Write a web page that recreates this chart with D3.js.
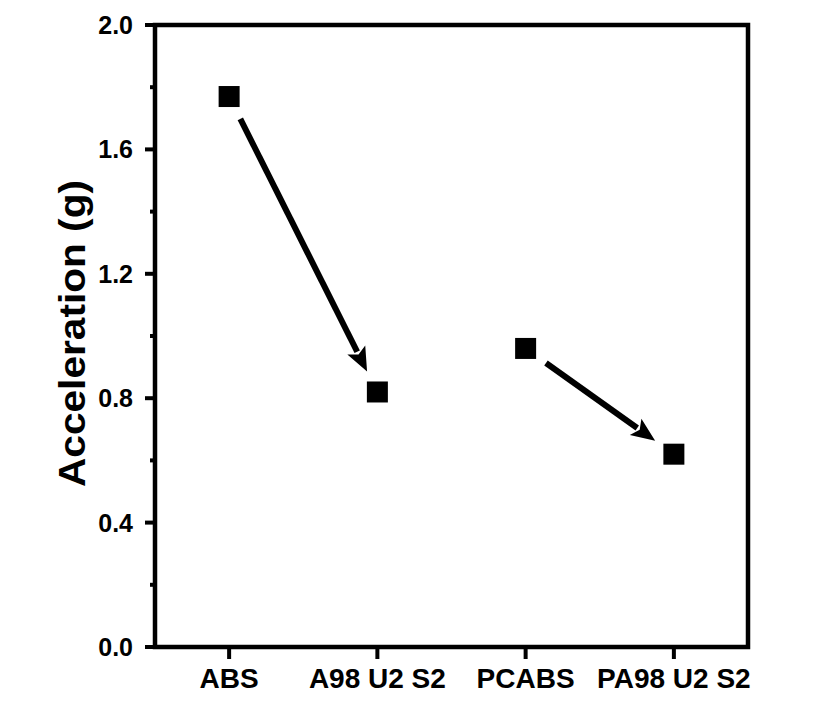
<!DOCTYPE html>
<html>
<head>
<meta charset="utf-8">
<script src="https://cdn.jsdelivr.net/npm/d3@7"></script>
<style>
  body { margin: 0; background: #fff; }
  text { font-family: "Liberation Sans", Arial, sans-serif; font-weight: bold; }
</style>
</head>
<body>
<div id="chart"></div>
<script>
"use strict";
var categories = ["ABS", "A98 U2 S2", "PCABS", "PA98 U2 S2"];
var values = [1.77, 0.82, 0.96, 0.62];
var majorTicks = [0.0, 0.4, 0.8, 1.2, 1.6, 2.0];
var minorTicks = [0.2, 0.6, 1.0, 1.4, 1.8];
var arrows = [[0, 1], [2, 3]]; // from category index -> to category index
var yLabel = "Acceleration (g)";

function drawChart()
{
    var w = 836;
    var h = 702;
    var left = 155, right = 748, top = 25, bottom = 647;

    var svg = d3.select("#chart")
                .append("svg")
                .attr("width", w)
                .attr("height", h);

    var x = d3.scalePoint()
              .domain(categories)
              .range([left, right])
              .padding(0.5);

    var y = d3.scaleLinear()
              .domain([0, 2.0])
              .range([bottom, top]);

    // frame
    svg.append("rect")
        .attr("x", left)
        .attr("y", top)
        .attr("width", right - left)
        .attr("height", bottom - top)
        .attr("fill", "none")
        .attr("stroke", "#000")
        .attr("stroke-width", 4.5);

    // y ticks
    svg.selectAll(".ymajor")
        .data(majorTicks)
        .enter().append("line")
        .attr("x1", left - 10)
        .attr("x2", left)
        .attr("y1", function(d) { return y(d); })
        .attr("y2", function(d) { return y(d); })
        .attr("stroke", "#000")
        .attr("stroke-width", 4);

    svg.selectAll(".yminor")
        .data(minorTicks)
        .enter().append("line")
        .attr("x1", left - 5)
        .attr("x2", left)
        .attr("y1", function(d) { return y(d); })
        .attr("y2", function(d) { return y(d); })
        .attr("stroke", "#000")
        .attr("stroke-width", 4);

    svg.selectAll(".ylab")
        .data(majorTicks)
        .enter().append("text")
        .text(function(d) { return d3.format(".1f")(d); })
        .attr("x", left - 22)
        .attr("y", function(d) { return y(d); })
        .attr("dy", "0.36em")
        .style("text-anchor", "end")
        .style("font-size", "25px")
        .attr("fill", "#000");

    // x ticks
    svg.selectAll(".xtick")
        .data(categories)
        .enter().append("line")
        .attr("x1", function(d) { return x(d); })
        .attr("x2", function(d) { return x(d); })
        .attr("y1", bottom)
        .attr("y2", bottom + 12)
        .attr("stroke", "#000")
        .attr("stroke-width", 4);

    svg.selectAll(".xlab")
        .data(categories)
        .enter().append("text")
        .text(function(d) { return d; })
        .attr("x", function(d) { return x(d); })
        .attr("y", 688)
        .style("text-anchor", "middle")
        .style("font-size", "28px")
        .attr("fill", "#000");

    // y axis title
    svg.append("text")
        .text(yLabel)
        .attr("transform", "translate(85," + ((top + bottom) / 2 - 2.5) + ") rotate(-90)")
        .attr("textLength", 307)
        .attr("lengthAdjust", "spacingAndGlyphs")
        .style("text-anchor", "middle")
        .style("font-size", "37px")
        .attr("fill", "#000");

    // arrows between points
    var gapStart = 25, gapEnd = 23, headLen = 24, headHalf = 10;
    arrows.forEach(function(a) {
        var x0 = x(categories[a[0]]), y0 = y(values[a[0]]);
        var x1 = x(categories[a[1]]), y1 = y(values[a[1]]);
        var dx = x1 - x0, dy = y1 - y0;
        var len = Math.sqrt(dx * dx + dy * dy);
        var ux = dx / len, uy = dy / len;
        var sx = x0 + ux * gapStart, sy = y0 + uy * gapStart;
        var tx = x1 - ux * gapEnd, ty = y1 - uy * gapEnd;
        var bx = tx - ux * headLen, by = ty - uy * headLen;

        svg.append("line")
            .attr("x1", sx).attr("y1", sy)
            .attr("x2", bx + ux * 2).attr("y2", by + uy * 2)
            .attr("stroke", "#000")
            .attr("stroke-width", 6);

        svg.append("path")
            .attr("d", "M" + tx + "," + ty +
                       "L" + (bx - uy * headHalf) + "," + (by + ux * headHalf) +
                       "L" + (bx + ux * 5) + "," + (by + uy * 5) +
                       "L" + (bx + uy * headHalf) + "," + (by - ux * headHalf) + "Z")
            .attr("fill", "#000");
    });

    // square markers
    svg.selectAll(".pt")
        .data(values)
        .enter().append("rect")
        .attr("x", function(d, i) { return x(categories[i]) - 10.5; })
        .attr("y", function(d) { return y(d) - 10.5; })
        .attr("width", 21)
        .attr("height", 21)
        .attr("fill", "#000");
}

window.addEventListener('load', function (){
    drawChart();
});
</script>
</body>
</html>
